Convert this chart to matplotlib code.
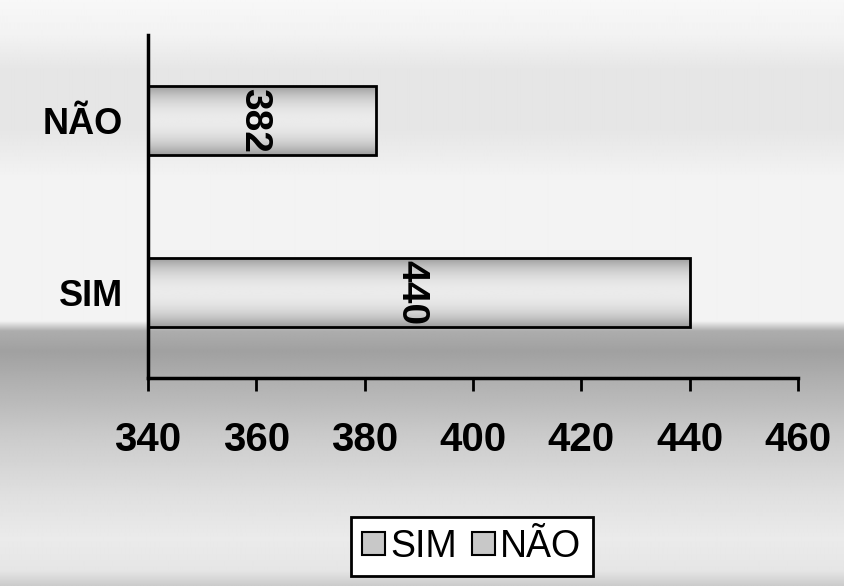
import numpy as np
import matplotlib
matplotlib.use('Agg')
import matplotlib.pyplot as plt

categories = ['SIM', 'NÃO']
values = [440, 382]
label_pos = [388.7, 359.6]   # where the value labels sit (data x)
xticks = [340, 360, 380, 400, 420, 440, 460]

plt.rcParams['font.family'] = ['Liberation Sans', 'DejaVu Sans']

fig = plt.figure(figsize=(8.44, 5.86), dpi=100)

# page background gradient (top -> bottom)
stops_y = [0.0, 0.06, 0.12, 0.22, 0.30, 0.50, 0.548, 0.565, 0.60, 0.66, 0.75, 0.85, 0.92, 0.975, 1.0]
stops_g = [0.97, 0.95, 0.90, 0.90, 0.95, 0.95, 0.95, 0.68, 0.63, 0.70, 0.80, 0.88, 0.92, 0.90, 0.80]
bg = fig.add_axes([0, 0, 1, 1], zorder=-10)
yy = np.linspace(0, 1, 586)
col = np.interp(yy, stops_y, stops_g)
bg.imshow(np.tile(col[:, None], (1, 10)), cmap='gray', vmin=0, vmax=1,
          aspect='auto', extent=[0, 1, 1, 0], interpolation='bilinear')
bg.set_xlim(0, 1)
bg.set_ylim(1, 0)
bg.axis('off')

ax = fig.add_axes([0.1754, 0.3549, 0.7701, 0.5853])
ax.patch.set_alpha(0)

bars = ax.barh(range(len(categories)), [v - 340 for v in values], left=340,
               height=0.4, color='#c8c8c8', edgecolor='black', linewidth=2)

# shaded fill inside each bar
t = np.linspace(-1, 1, 60)
shade = 0.92 - 0.30 * np.abs(t) ** 2.2
for b in bars:
    x0, y0 = b.get_x(), b.get_y()
    im = ax.imshow(shade[:, None], cmap='gray', vmin=0, vmax=1, aspect='auto',
                   extent=[x0, x0 + b.get_width(), y0, y0 + b.get_height()],
                   interpolation='bilinear', zorder=b.get_zorder() - 0.1)
    im.set_clip_path(b)
    b.set_facecolor('none')

for i, v in enumerate(values):
    ax.text(label_pos[i], i, str(v), rotation=-90, ha='center', va='center',
            fontsize=28, fontweight='bold')

ax.set_xlim(340, 460)
ax.set_ylim(-0.5, 1.5)
ax.set_xticks(xticks)
ax.set_xticklabels([str(x) for x in xticks], fontsize=29, fontweight='bold')
ax.set_yticks(range(len(categories)))
ax.set_yticklabels(categories, fontsize=26, fontweight='bold')
ax.tick_params(axis='x', direction='out', length=9, width=2, pad=22)
ax.tick_params(axis='y', length=0, pad=18)
for s in ['top', 'right']:
    ax.spines[s].set_visible(False)
for s in ['left', 'bottom']:
    ax.spines[s].set_linewidth(2.5)

handles = [plt.Rectangle((0, 0), 1, 1, facecolor='#c8c8c8', edgecolor='black', linewidth=1.5)
           for _ in categories]
leg = fig.legend(handles, categories, loc='center', bbox_to_anchor=(0.559, 0.067),
                 ncol=2, fontsize=27, handlelength=0.6, handleheight=0.6,
                 handletextpad=0.15, columnspacing=0.4, borderpad=0.3,
                 frameon=True, fancybox=False, borderaxespad=0)
leg.get_frame().set_edgecolor('black')
leg.get_frame().set_linewidth(2)
leg.get_frame().set_facecolor('white')
leg.get_frame().set_alpha(1)

fig.savefig('out.png', dpi=100)
